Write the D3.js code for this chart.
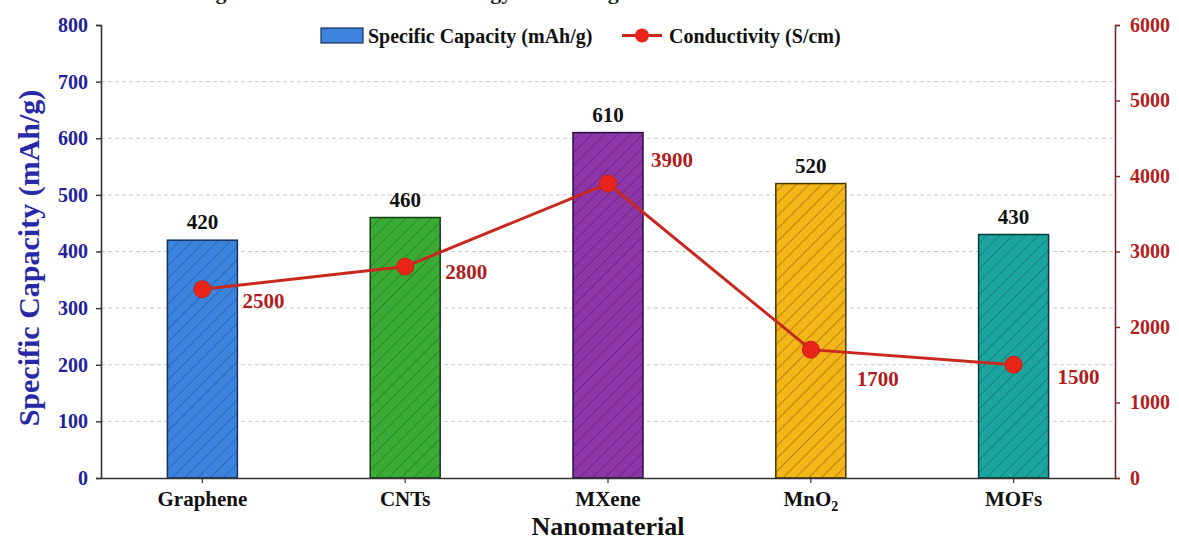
<!DOCTYPE html>
<html>
<head>
<meta charset="utf-8">
<script src="https://cdn.jsdelivr.net/npm/d3@7/dist/d3.min.js"></script>
<style>
  html, body { margin: 0; padding: 0; background: #ffffff; }
  svg { display: block; font-family: "Liberation Serif", "Times New Roman", serif; font-weight: bold; }
</style>
</head>
<body>
<svg id="chart" width="1179" height="541"></svg>
<script>
// ---- data ----
const categories = ["Graphene", "CNTs", "MXene", "MnO2", "MOFs"];
const capacity = [420, 460, 610, 520, 430];          // mAh/g (left axis)
const conductivity = [2500, 2800, 3900, 1700, 1500]; // S/cm (right axis)
const capacityTicks = [0, 100, 200, 300, 400, 500, 600, 700, 800];
const conductivityTicks = [0, 1000, 2000, 3000, 4000, 5000, 6000];

// ---- styling ----
const barFill   = ["#3b83dc", "#3aab35", "#8d36a8", "#f3b517", "#1ca5a0"];
const barHatch  = ["#1d4f99", "#1f6a1b", "#4c1862", "#7d5b06", "#0b5e5b"];
const barStroke = ["#14305c", "#143f12", "#2c0e3a", "#4a3503", "#063a38"];
// offsets (dx from bar centre, dy to baseline) of the conductivity labels
const labelOffsets = [[40, 19], [40, 12], [43, -17], [46, 36], [44, 19]];

const m = { left: 101, right: 1115, top: 25, bottom: 478 };
const svg = d3.select("#chart");

const x = d3.scaleBand().domain(categories).range([m.left, m.right])
  .paddingInner(0.655).paddingOuter(0.3275);
const yL = d3.scaleLinear().domain([0, 800]).range([m.bottom, m.top]);
const yR = d3.scaleLinear().domain([0, 6000]).range([m.bottom, m.top]);

// title (sits at the very top edge)
svg.append("text")
  .attr("x", 196).attr("y", -1)
  .attr("font-size", 22).attr("fill", "#222")
  .text("Figure 1: Electrochemical Energy and Charge Metrics of Nanomaterials");

// hatch patterns
const defs = svg.append("defs");
categories.forEach((c, i) => {
  const p = defs.append("pattern")
    .attr("id", "hatch" + i)
    .attr("patternUnits", "userSpaceOnUse")
    .attr("width", 9).attr("height", 9)
    .attr("patternTransform", "rotate(45)");
  p.append("rect").attr("width", 9).attr("height", 9).attr("fill", barFill[i]);
  p.append("line").attr("x1", 0).attr("y1", 0).attr("x2", 0).attr("y2", 9)
    .attr("stroke", barHatch[i]).attr("stroke-width", 1.3).attr("opacity", 0.8);
});

// grid lines
svg.append("g").selectAll("line")
  .data(capacityTicks.filter(d => d > 0 && d < 800))
  .join("line")
  .attr("x1", m.left).attr("x2", m.right)
  .attr("y1", d => yL(d)).attr("y2", d => yL(d))
  .attr("stroke", "#c8c8c8").attr("stroke-width", 1)
  .attr("stroke-dasharray", "4,3");

// bars
svg.append("g").selectAll("rect")
  .data(categories)
  .join("rect")
  .attr("x", d => x(d))
  .attr("width", x.bandwidth())
  .attr("y", (d, i) => yL(capacity[i]))
  .attr("height", (d, i) => yL(0) - yL(capacity[i]))
  .attr("fill", (d, i) => `url(#hatch${i})`)
  .attr("stroke", (d, i) => barStroke[i])
  .attr("stroke-width", 1.5);

// capacity labels above bars
svg.append("g").selectAll("text")
  .data(categories)
  .join("text")
  .attr("x", d => x(d) + x.bandwidth() / 2)
  .attr("y", (d, i) => yL(capacity[i]) - 11)
  .attr("text-anchor", "middle")
  .attr("font-size", 21).attr("fill", "#111")
  .text((d, i) => capacity[i]);

// axes
const tickFont = sel => sel.attr("font-size", 20)
  .attr("font-family", "Liberation Serif").attr("font-weight", "bold");

const axisL = svg.append("g").attr("transform", `translate(${m.left},0)`)
  .call(d3.axisLeft(yL).tickValues(capacityTicks).tickSize(5).tickPadding(8));
axisL.select(".domain").attr("stroke", "#333").attr("stroke-width", 1.6);
axisL.selectAll(".tick line").attr("stroke", "#333").attr("stroke-width", 1.4);
axisL.selectAll(".tick text").attr("fill", "#22229a").call(tickFont);

const axisR = svg.append("g").attr("transform", `translate(${m.right},0)`)
  .call(d3.axisRight(yR).tickValues(conductivityTicks).tickFormat(d3.format("d"))
    .tickSize(5).tickPadding(10));
axisR.select(".domain").attr("stroke", "#7a2a2a").attr("stroke-width", 1.6);
axisR.selectAll(".tick line").attr("stroke", "#7a2a2a").attr("stroke-width", 1.4);
axisR.selectAll(".tick text").attr("fill", "#b42020").call(tickFont);

const axisB = svg.append("g").attr("transform", `translate(0,${m.bottom})`)
  .call(d3.axisBottom(x).tickSize(5).tickPadding(8).tickSizeOuter(0));
axisB.select(".domain").attr("stroke", "#333").attr("stroke-width", 1.6);
axisB.selectAll(".tick line").attr("stroke", "#333").attr("stroke-width", 1.2);
axisB.selectAll(".tick text")
  .attr("fill", "#111").call(tickFont).attr("font-size", 21)
  .each(function(d) {
    if (d === "MnO2") {
      const t = d3.select(this).text("");
      t.append("tspan").text("MnO");
      t.append("tspan").attr("font-size", 14).attr("dy", 5).text("2");
    }
  });

// conductivity line
const cx = d => x(d) + x.bandwidth() / 2;
const line = d3.line().x(d => cx(d)).y((d, i) => yR(conductivity[i]));
svg.append("path")
  .datum(categories)
  .attr("d", line)
  .attr("fill", "none")
  .attr("stroke", "#c9281f")
  .attr("stroke-width", 3);

svg.append("g").selectAll("circle")
  .data(categories)
  .join("circle")
  .attr("cx", d => cx(d))
  .attr("cy", (d, i) => yR(conductivity[i]))
  .attr("r", 8.5)
  .attr("fill", "#ea2418")
  .attr("stroke", "#c81f16").attr("stroke-width", 1);

svg.append("g").selectAll("text")
  .data(categories)
  .join("text")
  .attr("x", (d, i) => cx(d) + labelOffsets[i][0])
  .attr("y", (d, i) => yR(conductivity[i]) + labelOffsets[i][1])
  .attr("font-size", 21).attr("fill", "#b01c1c")
  .text((d, i) => conductivity[i]);

// axis titles
svg.append("text")
  .attr("transform", `translate(39,${258}) rotate(-90)`)
  .attr("text-anchor", "middle")
  .attr("font-size", 30).attr("fill", "#2828a8")
  .text("Specific Capacity (mAh/g)");

svg.append("text")
  .attr("x", (m.left + m.right) / 2).attr("y", 535)
  .attr("text-anchor", "middle")
  .attr("font-size", 26).attr("fill", "#111")
  .text("Nanomaterial");

// legend
const lg = svg.append("g");
lg.append("rect").attr("x", 321).attr("y", 28).attr("width", 42).attr("height", 15)
  .attr("fill", barFill[0]).attr("stroke", barStroke[0]).attr("stroke-width", 1.2);
lg.append("text").attr("x", 368).attr("y", 43).attr("font-size", 20).attr("fill", "#111")
  .text("Specific Capacity (mAh/g)");
lg.append("line").attr("x1", 622).attr("x2", 662).attr("y1", 35.5).attr("y2", 35.5)
  .attr("stroke", "#c9281f").attr("stroke-width", 3);
lg.append("circle").attr("cx", 642).attr("cy", 35.5).attr("r", 7).attr("fill", "#ea2418");
lg.append("text").attr("x", 669).attr("y", 43).attr("font-size", 20).attr("fill", "#111")
  .text("Conductivity (S/cm)");
</script>
</body>
</html>
